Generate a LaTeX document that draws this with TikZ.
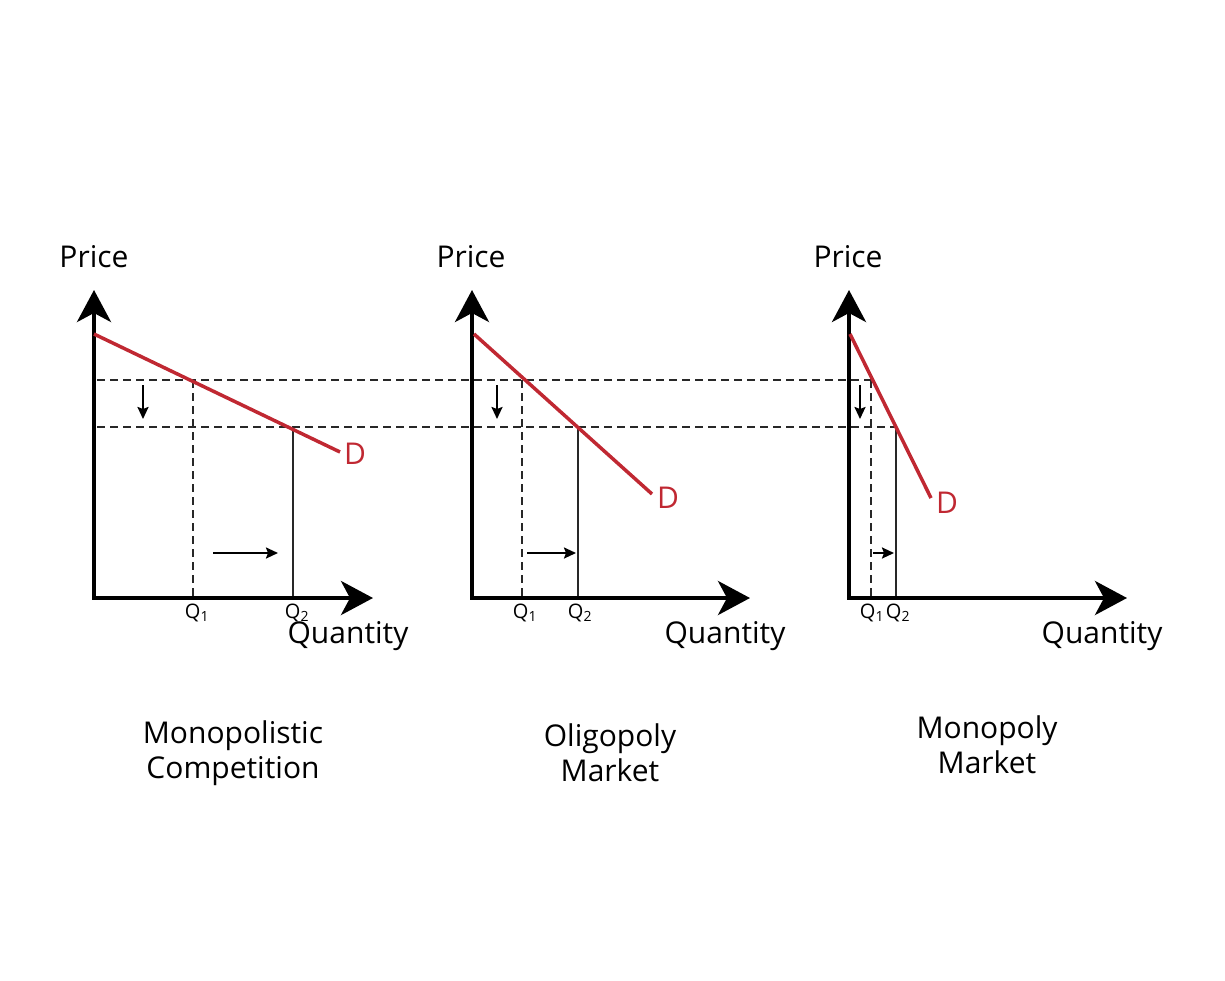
\documentclass[tikz,border=0pt]{standalone}
\usepackage{fontspec}
\setmainfont{Open Sans}
\usetikzlibrary{arrows.meta}
\definecolor{dred}{RGB}{192,40,50}
\definecolor{dgray}{RGB}{40,40,40}
\tikzset{
  bigtip/.tip={Stealth[length=32pt,width=34pt,inset=9pt]},
  axisline/.style={line width=4pt, line join=miter, bigtip-bigtip},
  demand/.style={line width=3.5pt, dred},
  guide/.style={line width=1.3pt, dgray, dash pattern=on 8pt off 5pt},
  qline/.style={line width=1.3pt, dgray},
  shiftarrow/.style={line width=2.2pt, -{Stealth[length=12pt,width=11pt,inset=2pt]}},
  bigtxt/.style={font=\fontsize{30}{35}\selectfont, inner sep=0pt, align=center},
  dlabel/.style={font=\fontsize{30}{35}\selectfont, text=dred, inner sep=0pt},
  qtxt/.style={font=\fontsize{20}{22}\selectfont, inner sep=0pt}
}
\begin{document}
\begin{tikzpicture}[x=1pt,y=-1pt]
\useasboundingbox (0,0) rectangle (1225,980);

% ---------- Panel 1 ----------
\coordinate (O1) at (94,598);
\coordinate (Y1) at (94,290);
\coordinate (X1) at (373,598);
\coordinate (A1) at (94,334);
\coordinate (B1) at (340,452);
\coordinate (P1a) at (193,380);
\coordinate (P1b) at (293,427);
\coordinate (Q1a) at (193,598);
\coordinate (Q1b) at (293,598);
\coordinate (da1) at (143,385);
\coordinate (db1) at (143,419);
\coordinate (ra1) at (213,553);
\coordinate (rb1) at (278,553);

% ---------- Panel 2 ----------
\coordinate (O2) at (472,598);
\coordinate (Y2) at (472,290);
\coordinate (X2) at (750,598);
\coordinate (A2) at (474,334);
\coordinate (B2) at (652,494);
\coordinate (P2a) at (522,380);
\coordinate (P2b) at (578,427);
\coordinate (Q2a) at (522,598);
\coordinate (Q2b) at (578,598);
\coordinate (da2) at (497,385);
\coordinate (db2) at (497,419);
\coordinate (ra2) at (527,553);
\coordinate (rb2) at (576,553);

% ---------- Panel 3 ----------
\coordinate (O3) at (849,598);
\coordinate (Y3) at (849,290);
\coordinate (X3) at (1127,598);
\coordinate (A3) at (850,334);
\coordinate (B3) at (931,498);
\coordinate (P3a) at (871,380);
\coordinate (P3b) at (896,427);
\coordinate (Q3a) at (871,598);
\coordinate (Q3b) at (896,598);
\coordinate (da3) at (860,385);
\coordinate (db3) at (860,419);
\coordinate (ra3) at (873,553);
\coordinate (rb3) at (894,553);

% dashed price levels running across all panels
\coordinate (L1) at (97,380);
\coordinate (L2) at (97,427);
\draw[guide] (L1) -- (P3a);
\draw[guide] (L2) -- (P3b);

% quantity guides
\draw[guide] (P1a) -- (Q1a);
\draw[qline] (P1b) -- (Q1b);
\draw[guide] (P2a) -- (Q2a);
\draw[qline] (P2b) -- (Q2b);
\draw[guide] (P3a) -- (Q3a);
\draw[qline] (P3b) -- (Q3b);

% axes
\draw[axisline] (Y1) -- (O1) -- (X1);
\draw[axisline] (Y2) -- (O2) -- (X2);
\draw[axisline] (Y3) -- (O3) -- (X3);

% demand curves
\draw[demand] (A1) -- (B1);
\draw[demand] (A2) -- (B2);
\draw[demand] (A3) -- (B3);

% shift arrows
\draw[shiftarrow] (da1) -- (db1);
\draw[shiftarrow] (ra1) -- (rb1);
\draw[shiftarrow] (da2) -- (db2);
\draw[shiftarrow] (ra2) -- (rb2);
\draw[shiftarrow] (da3) -- (db3);
\draw[shiftarrow] (ra3) -- (rb3);

% labels
\node[bigtxt] (price1) at (94,257) {Price};
\node[bigtxt] (price2) at (471,257) {Price};
\node[bigtxt] (price3) at (848,257) {Price};
\node[bigtxt] (qty1) at (348,636) {Quantity};
\node[bigtxt] (qty2) at (725,636) {Quantity};
\node[bigtxt] (qty3) at (1102,636) {Quantity};
\node[dlabel] (d1) at (355,454) {D};
\node[dlabel] (d2) at (668,498) {D};
\node[dlabel] (d3) at (947,503) {D};
\node[qtxt] (q1a) at (197,613) {Q\textsubscript{1}};
\node[qtxt] (q1b) at (297,613) {Q\textsubscript{2}};
\node[qtxt] (q2a) at (525,613) {Q\textsubscript{1}};
\node[qtxt] (q2b) at (580,613) {Q\textsubscript{2}};
\node[qtxt] (q3a) at (872,613) {Q\textsubscript{1}};
\node[qtxt] (q3b) at (898,613) {Q\textsubscript{2}};
\node[bigtxt] (t1) at (233,753) {Monopolistic\\Competition};
\node[bigtxt] (t2) at (610,753) {Oligopoly\\Market};
\node[bigtxt] (t3) at (987,745) {Monopoly\\Market};
\end{tikzpicture}
\end{document}
